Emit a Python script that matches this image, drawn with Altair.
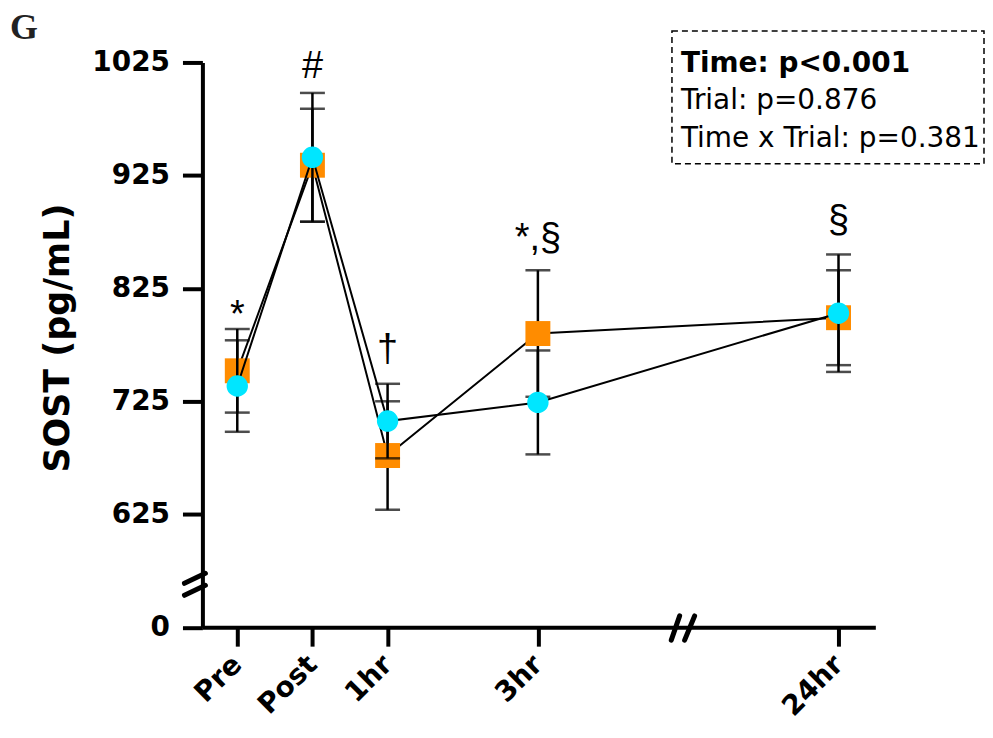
import altair as alt
import pandas as pd

# ---------------- data ----------------
time_labels = ["Pre", "Post", "1hr", "3hr", "24hr"]
time_pos = [0, 1, 2, 4, 8]            # broken time axis: 24hr placed after a break

orange_mean = [752, 934, 677, 785, 799]
orange_err = [37, 50, 48, 56, 42]
cyan_mean = [738.5, 941, 707.5, 724, 803]
cyan_err = [40.5, 57, 33, 46, 52]

annot_text = ["*", "#", "\u2020", "*,\u00a7", "\u00a7"]
annot_y = [791, 1011, 761, 859, 875]

y_tick_values = [0, 625, 725, 825, 925, 1025]
stats_lines = ["Time: p<0.001", "Trial: p=0.876", "Time x Trial: p=0.381"]

y_title = "SOST (pg/mL)"
panel_letter = "G"

# ---------------- layout / style ----------------
BREAK_AT = 525          # where the "0" tick sits on the broken y axis
ORANGE = "#FF8C00"
CYAN = "#00E6FF"
FONT = "DejaVu Sans"
W, H = 675, 566.5


def series_df(means, errs):
    return pd.DataFrame({
        "pos": time_pos,
        "label": time_labels,
        "mean": means,
        "lo": [m - e for m, e in zip(means, errs)],
        "hi": [m + e for m, e in zip(means, errs)],
    })


df_o = series_df(orange_mean, orange_err)
df_c = series_df(cyan_mean, cyan_err)
df_a = pd.DataFrame({"pos": time_pos, "txt": annot_text, "ay": annot_y})

plot_ticks = [BREAK_AT if v == 0 else v for v in y_tick_values]

x_label_expr = "".join(
    f"datum.value == {p} ? '{l}' : " for p, l in zip(time_pos, time_labels)
) + "''"

x_scale = alt.Scale(domain=[-0.464, 8.49], nice=False, zero=False)
y_scale = alt.Scale(domain=[BREAK_AT, 1025], nice=False, zero=False)

x_axis = alt.Axis(
    values=time_pos, labelExpr=x_label_expr, title=None, grid=False,
    tickSize=19, tickWidth=4, domainWidth=4, domainColor="black", tickColor="black",
    labelAngle=315, labelAlign="right", labelBaseline="middle", labelPadding=14,
    labelFont=FONT, labelFontSize=28, labelFontWeight="bold", labelColor="black",
)
y_axis = alt.Axis(
    values=plot_ticks, format="d",
    labelExpr=f"datum.value == {BREAK_AT} ? '0' : format(datum.value, 'd')",
    title=y_title, grid=False,
    tickSize=20, tickWidth=4, domainWidth=4, domainColor="black", tickColor="black",
    labelPadding=13, labelFont=FONT, labelFontSize=28, labelFontWeight="bold",
    labelColor="black",
    titleFont=FONT, titleFontSize=35, titleFontWeight="bold", titleColor="black",
    titleAngle=270, titleX=-145, titleY=276, titleAlign="center",
    titleBaseline="middle",
)


def X(field="pos"):
    return alt.X(f"{field}:Q", scale=x_scale, axis=x_axis)


def Y(field):
    return alt.Y(f"{field}:Q", scale=y_scale, axis=y_axis)


def series_layers(df, color, shape, size):
    base = alt.Chart(df)
    line = base.mark_line(color="black", strokeWidth=2).encode(
        x=X(), y=Y("mean"), order="pos:Q")
    rule = base.mark_rule(color="black", strokeWidth=2.5).encode(
        x=X(), y=Y("lo"), y2="hi:Q")
    cap_lo = base.mark_tick(orient="horizontal", color="black", size=25,
                            thickness=2.5).encode(x=X(), y=Y("lo"))
    cap_hi = base.mark_tick(orient="horizontal", color="black", size=25,
                            thickness=2.5).encode(x=X(), y=Y("hi"))
    pts = base.mark_point(shape=shape, filled=True, opacity=1, color=color,
                          size=size, strokeWidth=0).encode(x=X(), y=Y("mean"))
    return [line, rule, cap_lo, cap_hi, pts]


layers = series_layers(df_o, ORANGE, "square", 625) + \
    series_layers(df_c, CYAN, "circle", 460)

annots = alt.Chart(df_a).mark_text(
    font="Liberation Sans", fontSize=38, color="black", baseline="alphabetic",
    align="center").encode(x=X(), y=Y("ay"), text="txt:N")

one = pd.DataFrame({"k": [0]})


def stroke(x1, y1, x2, y2):
    return alt.Chart(one).mark_rule(color="black", strokeWidth=5,
                                    strokeCap="round").encode(
        x=alt.value(x1), y=alt.value(y1), x2=alt.value(x2), y2=alt.value(y2))


breaks = [
    stroke(-18, 522.5, 3, 512.5), stroke(-18, 534.5, 3, 524.5),
    stroke(470.3, 579.5, 478.7, 555.2), stroke(483.7, 579.5, 493.7, 555.2),
]

box = alt.Chart(one).mark_rect(fill="white", stroke="black", strokeWidth=1.5,
                               strokeDash=[6, 4]).encode(
    x=alt.value(471), x2=alt.value(784), y=alt.value(-31.5), y2=alt.value(101.5))

stat_marks = []
for i, (txt, yy) in enumerate(zip(stats_lines, [9.2, 47.2, 84.5])):
    stat_marks.append(
        alt.Chart(one).mark_text(
            font=FONT, fontSize=28, fontWeight="bold" if i == 0 else "normal",
            color="black", align="left", baseline="alphabetic", text=txt,
        ).encode(x=alt.value(480), y=alt.value(yy))
    )

letter = alt.Chart(one).mark_text(
    font="Liberation Serif", fontSize=36, fontWeight="bold", color="#222222",
    align="left", baseline="alphabetic", text=panel_letter,
).encode(x=alt.value(-193), y=alt.value(-24))

chart = alt.layer(
    *layers, annots, *breaks, box, *stat_marks, letter
).properties(
    width=W, height=H,
    autosize=alt.AutoSizeParams(type="none"),
    padding={"left": 195, "top": 53.5, "right": 110, "bottom": 100},
).configure(
    background="white", view=alt.ViewConfig(stroke=None, strokeWidth=0)
)

chart.save("out.html", embed_options={"renderer": "svg", "actions": False})
